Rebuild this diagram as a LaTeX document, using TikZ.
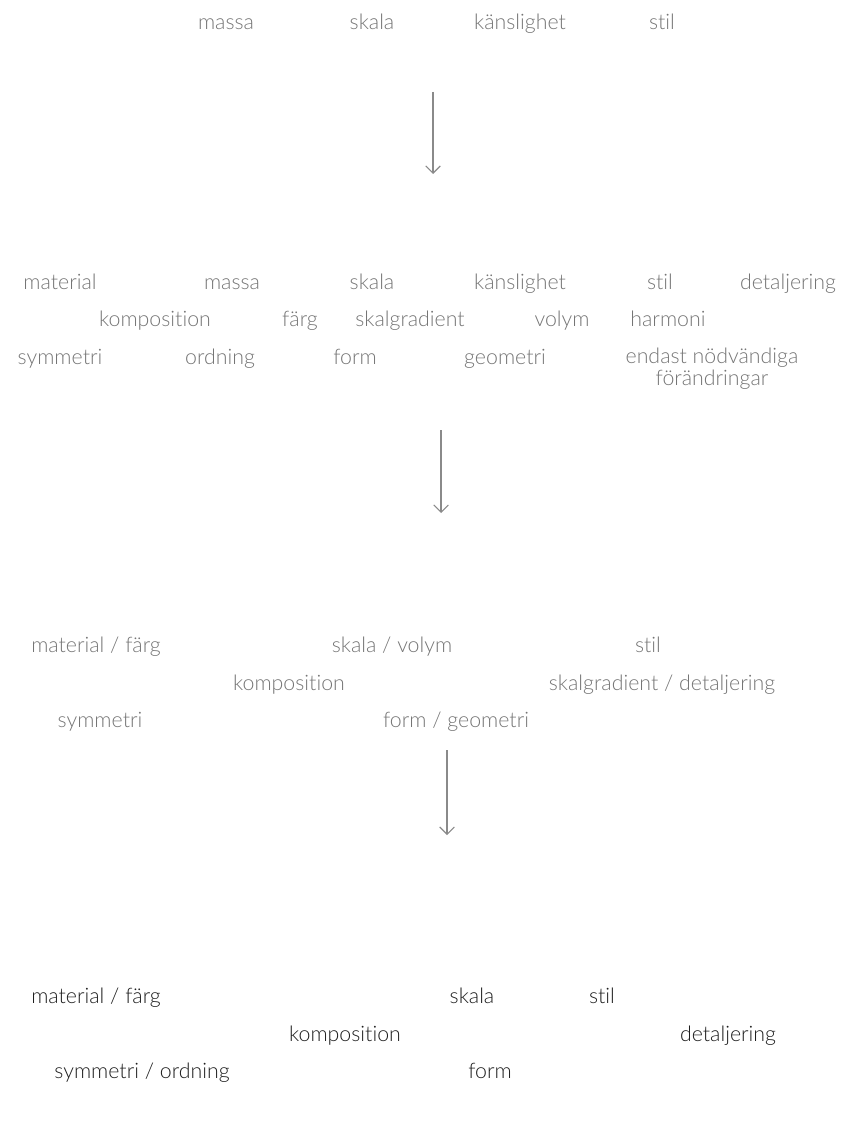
\documentclass[tikz,border=0pt]{standalone}
\usepackage{fontspec}
\setmainfont{Lato}[UprightFont={* Light},Ligatures=NoCommon]
\usetikzlibrary{arrows.meta}

\definecolor{wordgray}{HTML}{757575}
\definecolor{wordblack}{HTML}{1E1E1E}
\definecolor{arrowgray}{HTML}{8A8A8A}

\begin{document}
\begin{tikzpicture}[x=0.75pt,y=-0.75pt,
  word/.style={text=wordgray,inner sep=0pt,anchor=base,font=\fontsize{16}{16}\selectfont},
  final/.style={word,text=wordblack},
  flow/.style={draw=arrowgray,line width=0.8pt,-{Straight Barb[length=5.5pt,width=11pt]}}]
  \useasboundingbox (0,0) rectangle (857,1126);
  % first set
  \node[word] (a-massa) at (226,30) {massa};
  \node[word] (a-skala) at (372,30) {skala};
  \node[word] (a-kanslighet) at (520,30) {känslighet};
  \node[word] (a-stil) at (662,30) {stil};
  \coordinate (a-out) at (433,92);
  \coordinate (b-in) at (433,174);
  \draw[flow] (a-out) -- (b-in);
  % second set
  \node[word] (b-material) at (60,290) {material};
  \node[word] (b-massa) at (232,290) {massa};
  \node[word] (b-skala) at (372,290) {skala};
  \node[word] (b-kanslighet) at (520,290) {känslighet};
  \node[word] (b-stil) at (660,290) {stil};
  \node[word] (b-detaljering) at (788,290) {detaljering};
  \node[word] (b-komposition) at (155,327) {komposition};
  \node[word] (b-farg) at (300,327) {färg};
  \node[word] (b-skalgradient) at (410,327) {skalgradient};
  \node[word] (b-volym) at (562,327) {volym};
  \node[word] (b-harmoni) at (668,327) {harmoni};
  \node[word] (b-symmetri) at (60,364) {symmetri};
  \node[word] (b-ordning) at (220,364) {ordning};
  \node[word] (b-form) at (355,364) {form};
  \node[word] (b-geometri) at (505,364) {geometri};
  \node[word,align=center] (b-endast) at (712,385) {endast nödvändiga\\förändringar};
  \coordinate (b-out) at (441,430);
  \coordinate (c-in) at (441,513);
  \draw[flow] (b-out) -- (c-in);
  % third set
  \node[word] (c-material) at (96,652) {material / färg};
  \node[word] (c-skala) at (392,652) {skala / volym};
  \node[word] (c-stil) at (648,652) {stil};
  \node[word] (c-komposition) at (289,690) {komposition};
  \node[word] (c-skalgradient) at (662,690) {skalgradient / detaljering};
  \node[word] (c-symmetri) at (100,727) {symmetri};
  \node[word] (c-form) at (456,727) {form / geometri};
  \coordinate (c-out) at (447,750);
  \coordinate (d-in) at (447,835);
  \draw[flow] (c-out) -- (d-in);
  % final set
  \node[final] (d-material) at (96,1003) {material / färg};
  \node[final] (d-skala) at (472,1003) {skala};
  \node[final] (d-stil) at (602,1003) {stil};
  \node[final] (d-komposition) at (345,1041) {komposition};
  \node[final] (d-detaljering) at (728,1041) {detaljering};
  \node[final] (d-symmetri) at (142,1078) {symmetri / ordning};
  \node[final] (d-form) at (490,1078) {form};
\end{tikzpicture}
\end{document}
